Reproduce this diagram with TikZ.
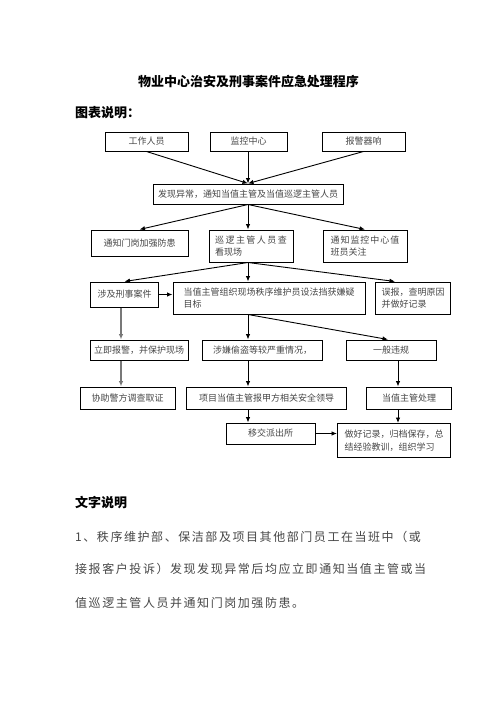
\documentclass[tikz,border=0pt]{standalone}
\usepackage{fontspec}
\setmainfont{Noto Sans CJK SC}
\usetikzlibrary{arrows.meta,positioning,calc}
\definecolor{boxText}{RGB}{70,70,70}
\definecolor{arrowGray}{RGB}{120,120,120}
\newcommand{\spread}[2]{{\addfontfeature{LetterSpace=#1}#2}}

\begin{document}
\begin{tikzpicture}[x=1pt,y=-1pt,
        box/.style={draw, line width=1pt, minimum height=20pt, inner xsep=4pt, inner ysep=3pt,
          align=left, text=boxText, font=\fontsize{9}{12.5}\selectfont},
        flow/.style={-{Latex[length=5.5pt,width=4.5pt]}, line width=0.9pt},
        grayflow/.style={flow, draw=arrowGray, line width=1.8pt},
        heading/.style={font=\fontsize{13}{15}\selectfont\bfseries},
        para/.style={anchor=west, inner sep=0pt, font=\fontsize{12}{14}\selectfont\addfontfeature{LetterSpace=13}, text=boxText}
      ]
        \useasboundingbox (0,0) rectangle (496,702);
        \coordinate (ccol) at (248,0);
        \coordinate (rcol) at (398,0);
        \coordinate (lcol) at (121,0);

        \node[heading] (title) at (248.5,82) {物业中心治安及刑事案件应急处理程序};
        \node[heading, anchor=west, inner sep=0pt] (legend) at (75,113) {图表说明：};

        \node[box, minimum width=83pt, minimum height=19pt] (worker) at (146.5,141.5) {工作人员};
        \node[box, minimum width=77pt, minimum height=19pt] (monitor) at (248.5,141.5) {监控中心};
        \node[box, minimum width=83pt, minimum height=19pt] (alarm) at (363.5,141.5) {报警器响};

        \node[box, minimum width=190pt] (found) at (248,194) {发现异常，通知当值主管及当值巡逻主管人员};

        \node[box, minimum width=97pt, minimum height=26pt] (gate) at (139.5,243) {通知门岗加强防患};
        \node[box, minimum width=84pt, minimum height=32pt] (patrol) at (251,246) {\spread{16}{巡逻主管人员查}\\看现场};
        \node[box, minimum width=84pt, minimum height=32pt] (notify) at (365,246) {\spread{11}{通知监控中心值}\\班员关注};

        \node[box, minimum width=68pt, minimum height=25pt] (crime) at (124.5,294.5) {涉及刑事案件};
        \node[box, minimum width=192pt, minimum height=32pt] (duty) at (269,298) {当值主管组织现场秩序维护员设法挡获嫌疑\\目标};
        \node[box, minimum width=75pt, minimum height=32pt] (misreport) at (413,298) {误报，查明原因\\并做好记录};

        \node[box, minimum width=97pt] (police) at (139,350) {立即报警，并保护现场};
        \node[box, minimum width=120pt] (severe) at (262.5,350) {涉嫌偷盗等较严重情况，};
        \node[box, minimum width=90pt] (general) at (391,350) {一般违规};

        \node[box, minimum width=95pt, minimum height=22pt] (assist) at (127.5,398) {协助警方调查取证};
        \node[box, minimum width=160pt, minimum height=22pt] (project) at (266.5,398) {项目当值主管报甲方相关安全领导};
        \node[box, minimum width=85pt, minimum height=22pt] (handle) at (409,398) {当值主管处理};

        \node[box, minimum width=89pt, minimum height=21pt] (transfer) at (270.5,433.5) {移交派出所};
        \node[box, minimum width=113pt, minimum height=34pt] (record) at (394,440.5) {做好记录，归档保存，总\\结经验教训，组织学习};

        \draw[flow] (worker.south) -- (found.north);
        \draw[flow] (ccol |- monitor.south) -- (found.north);
        \draw[flow] (alarm.south) -- (found.north);

        \draw[flow] (found.south) -- (gate.north);
        \draw[flow] (found.south) -- (ccol |- patrol.north);
        \draw[flow] (found.south) -- (notify.north);

        \draw[flow] (ccol |- patrol.south) -- (crime.north);
        \draw[flow] (ccol |- patrol.south) -- (ccol |- duty.north);
        \draw[flow] (ccol |- patrol.south) -- ([xshift=-18pt]misreport.north);
        \draw[flow] (crime.east) -- (crime.east -| duty.west);

        \draw[grayflow] (lcol |- crime.south) -- (lcol |- police.north);
        \draw[flow] (ccol |- duty.south) -- (ccol |- severe.north);
        \draw[flow] (ccol |- duty.south) -- ([xshift=-3pt]general.north);

        \draw[grayflow] (lcol |- police.south) -- (lcol |- assist.north);
        \draw[flow] (ccol |- severe.south) -- (ccol |- project.north);
        \draw[flow] (rcol |- general.south) -- (rcol |- handle.north);

        \draw[flow] (ccol |- project.south) -- (ccol |- transfer.north);
        \draw[flow] (rcol |- handle.south) -- (rcol |- record.north);
        \draw[flow] (transfer.east) -- (transfer.east -| record.west);

        \node[heading, anchor=west, inner sep=0pt] (texthead) at (75,503) {文字说明};
        \node[para] (line1) at (75,537) {1、秩序维护部、保洁部及项目其他部门员工在当班中（或};
        \node[para] (line2) at (75,569) {接报客户投诉）发现发现异常后均应立即通知当值主管或当};
        \node[para] (line3) at (75,603) {值巡逻主管人员并通知门岗加强防患。};
      \end{tikzpicture}
\end{document}
